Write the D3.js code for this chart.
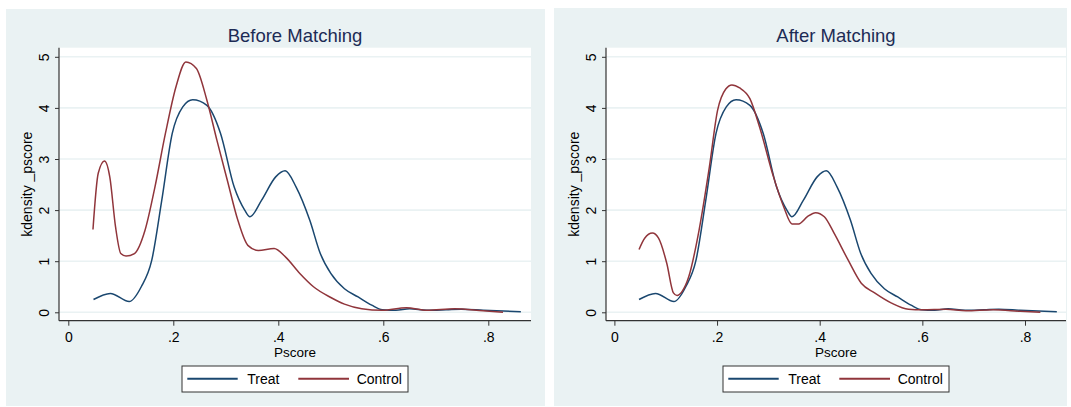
<!DOCTYPE html>
<html>
<head>
<meta charset="utf-8">
<script src="https://cdn.jsdelivr.net/npm/d3@7"></script>
<style>
  html, body { margin: 0; padding: 0; background: #ffffff; }
  svg { display: block; font-family: "Liberation Sans", Arial, sans-serif; }
</style>
</head>
<body>
<svg id="chart" width="1071" height="407"></svg>
<script>
// ---- Data ----
const panelTitles = ["Before Matching", "After Matching"];
const seriesNames = ["Treat", "Control"];
const yAxisTitle = "kdensity _pscore";
const xAxisTitle = "Pscore";
const yTicks = [0, 1, 2, 3, 4, 5];
const xTicks = [0, 0.2, 0.4, 0.6, 0.8];
const xTickLabels = ["0", ".2", ".4", ".6", ".8"];

const treatX = [0.048, 0.08, 0.116, 0.139, 0.159, 0.178, 0.198, 0.218, 0.237, 0.264, 0.29, 0.316, 0.336, 0.346, 0.368, 0.395, 0.413, 0.434, 0.46, 0.48, 0.5, 0.526, 0.552, 0.578, 0.598, 0.624, 0.65, 0.683, 0.72, 0.749, 0.79, 0.862];
const treatY = [0.25, 0.37, 0.21, 0.5, 1.02, 2.19, 3.5, 4.02, 4.16, 4.05, 3.5, 2.45, 2.0, 1.87, 2.19, 2.65, 2.77, 2.45, 1.8, 1.15, 0.76, 0.46, 0.3, 0.14, 0.05, 0.04, 0.07, 0.04, 0.05, 0.06, 0.04, 0.01];

const controlBeforeX = [0.047, 0.057, 0.069, 0.079, 0.09, 0.1, 0.11, 0.126, 0.146, 0.165, 0.185, 0.205, 0.224, 0.244, 0.264, 0.283, 0.303, 0.323, 0.342, 0.362, 0.392, 0.414, 0.441, 0.467, 0.5, 0.526, 0.559, 0.598, 0.644, 0.683, 0.736, 0.79, 0.828];
const controlBeforeY = [1.62, 2.72, 2.96, 2.65, 1.67, 1.15, 1.1, 1.15, 1.6, 2.45, 3.5, 4.41, 4.9, 4.77, 4.15, 3.37, 2.58, 1.8, 1.31, 1.21, 1.25, 1.08, 0.76, 0.5, 0.29, 0.16, 0.07, 0.04, 0.09, 0.04, 0.07, 0.03, 0.0];

const controlAfterX = [0.048, 0.059, 0.074, 0.086, 0.102, 0.115, 0.122, 0.132, 0.145, 0.165, 0.185, 0.201, 0.217, 0.229, 0.244, 0.264, 0.283, 0.31, 0.33, 0.346, 0.359, 0.376, 0.392, 0.409, 0.428, 0.455, 0.481, 0.507, 0.54, 0.573, 0.6, 0.646, 0.685, 0.738, 0.791, 0.83];
const controlAfterY = [1.23, 1.45, 1.55, 1.45, 0.96, 0.38, 0.33, 0.41, 0.7, 1.61, 2.84, 3.95, 4.37, 4.45, 4.39, 4.18, 3.62, 2.65, 2.06, 1.73, 1.73, 1.87, 1.95, 1.87, 1.55, 1.03, 0.57, 0.38, 0.18, 0.06, 0.05, 0.06, 0.03, 0.05, 0.02, 0.0];

// ---- Styles ----
const COLORS = { treat: "#1a476f", control: "#90353b", bg: "#eaf2f3", grid: "#eaf2f3", title: "#1c2b55", axis: "#333333" };

const svg = d3.select("#chart");

const panels = [
  { title: panelTitles[0], panel: [6, 9, 539, 397], plot: { left: 59, right: 531, top: 47.7, bottom: 320.7 }, xr: [68.3, 488.3],
    series: [ {name: seriesNames[0], xs: treatX, ys: treatY, color: COLORS.treat}, {name: seriesNames[1], xs: controlBeforeX, ys: controlBeforeY, color: COLORS.control} ] },
  { title: panelTitles[1], panel: [554, 8, 513, 398], plot: { left: 606, right: 1066, top: 47.7, bottom: 320.7 }, xr: [614.4, 1025],
    series: [ {name: seriesNames[0], xs: treatX, ys: treatY, color: COLORS.treat}, {name: seriesNames[1], xs: controlAfterX, ys: controlAfterY, color: COLORS.control} ] }
];

panels.forEach(p => {
  const g = svg.append("g");
  const P = p.plot;
  g.append("rect").attr("x", p.panel[0]).attr("y", p.panel[1]).attr("width", p.panel[2]).attr("height", p.panel[3]).attr("fill", COLORS.bg);
  g.append("rect").attr("x", P.left).attr("y", P.top).attr("width", P.right - P.left).attr("height", P.bottom - P.top).attr("fill", "#ffffff");

  const x = d3.scaleLinear().domain([0, 0.8]).range(p.xr);
  const y = d3.scaleLinear().domain([0, 5]).range([312.3, 56.8]);
  const cx = (P.left + P.right) / 2;

  // gridlines
  g.selectAll(".grid").data(yTicks).enter().append("line")
    .attr("x1", P.left).attr("x2", P.right)
    .attr("y1", d => y(d)).attr("y2", d => y(d))
    .attr("stroke", COLORS.grid).attr("stroke-width", 1.6);

  // title
  g.append("text").attr("x", cx).attr("y", 41.5).attr("text-anchor", "middle")
    .attr("font-size", 18.5).attr("fill", COLORS.title).text(p.title);

  // y axis
  const yAxis = d3.axisLeft(y).tickValues(yTicks).tickSize(4).tickPadding(3).tickFormat(d3.format("d"));
  const ya = g.append("g").attr("transform", `translate(${P.left},0)`).call(yAxis);
  ya.select(".domain").remove();
  ya.attr("font-family", null);
  ya.selectAll(".tick line").attr("stroke", COLORS.axis);
  ya.selectAll(".tick text").attr("font-size", 14).attr("fill", "#000")
    .attr("text-anchor", "middle").attr("dy", null).attr("x", null)
    .attr("transform", "translate(-10,0) rotate(-90)");
  g.append("line").attr("x1", P.left).attr("x2", P.left).attr("y1", P.top).attr("y2", P.bottom)
    .attr("stroke", COLORS.axis).attr("stroke-width", 1.2);

  // x axis
  const xAxis = d3.axisBottom(x).tickValues(xTicks).tickSize(5).tickPadding(4).tickFormat((d, i) => xTickLabels[i]);
  const xa = g.append("g").attr("transform", `translate(0,${P.bottom})`).call(xAxis);
  xa.select(".domain").remove();
  xa.attr("font-family", null);
  xa.selectAll(".tick line").attr("stroke", COLORS.axis);
  xa.selectAll(".tick text").attr("font-size", 14).attr("fill", "#000").attr("dy", null).attr("y", 21);
  g.append("line").attr("x1", P.left).attr("x2", P.right).attr("y1", P.bottom).attr("y2", P.bottom)
    .attr("stroke", COLORS.axis).attr("stroke-width", 1.2);

  // axis titles
  g.append("text").attr("transform", `translate(${P.left - 27},${(P.top + P.bottom) / 2}) rotate(-90)`)
    .attr("text-anchor", "middle").attr("font-size", 14).attr("fill", "#000").text(yAxisTitle);
  g.append("text").attr("x", cx).attr("y", 357).attr("text-anchor", "middle")
    .attr("font-size", 13.5).attr("fill", "#000").text(xAxisTitle);

  // curves
  const line = d3.line().x(d => x(d[0])).y(d => y(d[1])).curve(d3.curveMonotoneX);
  p.series.forEach(s => {
    const pts = s.xs.map((v, i) => [v, s.ys[i]]);
    g.append("path").attr("d", line(pts)).attr("fill", "none")
      .attr("stroke", s.color).attr("stroke-width", 1.5).attr("stroke-linejoin", "round");
  });

  // legend
  const lg = g.append("g").attr("transform", `translate(${cx},0)`);
  lg.append("rect").attr("x", -113).attr("y", 366).attr("width", 226).attr("height", 26)
    .attr("fill", "#ffffff").attr("stroke", "#333333").attr("stroke-width", 1);
  const items = [
    { name: p.series[0].name, color: p.series[0].color, x0: -107.7, x1: -57.3, tx: -47.7 },
    { name: p.series[1].name, color: p.series[1].color, x0: 3.3, x1: 54, tx: 61.7 }
  ];
  items.forEach(it => {
    lg.append("line").attr("x1", it.x0).attr("x2", it.x1).attr("y1", 378.7).attr("y2", 378.7)
      .attr("stroke", it.color).attr("stroke-width", 2);
    lg.append("text").attr("x", it.tx).attr("y", 384).attr("font-size", 14).attr("fill", "#000").text(it.name);
  });
});
</script>
</body>
</html>
